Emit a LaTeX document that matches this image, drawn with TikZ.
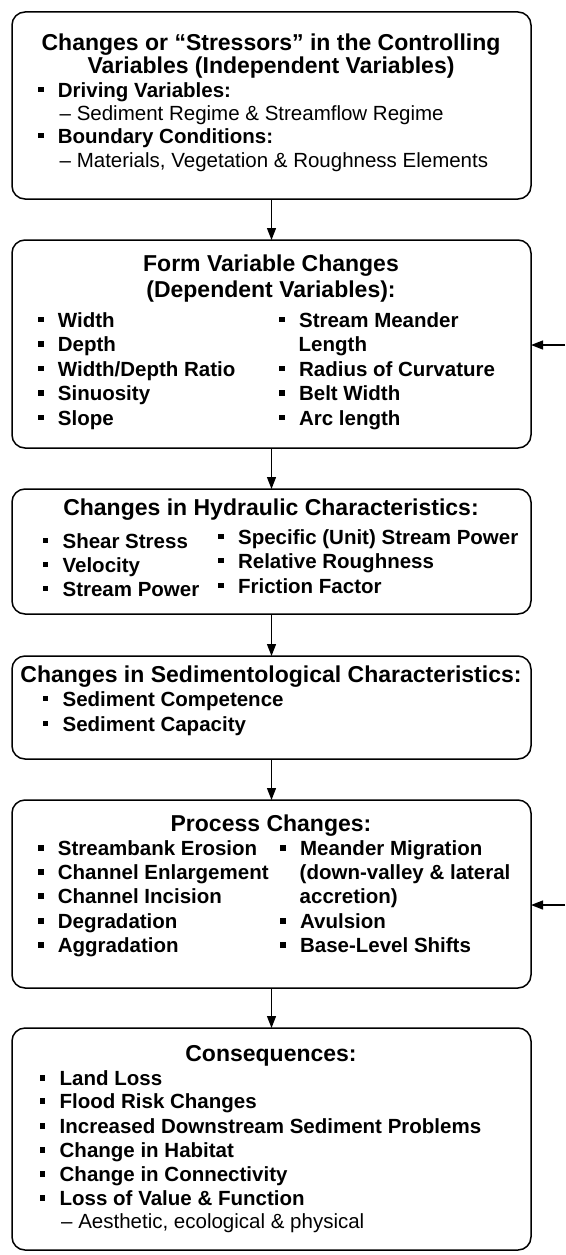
\documentclass[tikz,border=0pt]{standalone}
\usepackage{fontspec}
\setmainfont{Liberation Sans}
\usetikzlibrary{arrows.meta}
\newcommand{\sqb}{\rule[0.22em]{0.27em}{0.27em}\hspace{0.7em}}
\begin{document}
\begin{tikzpicture}[x=1pt,y=-1pt,
  box/.style={draw, line width=1.5pt, rounded corners=13pt, inner sep=0, outer sep=0},
  ttl/.style={anchor=base, font=\fontsize{23}{27}\selectfont\bfseries, inner sep=0},
  itm/.style={anchor=base west, font=\fontsize{20.5}{24}\selectfont\bfseries, inner sep=0},
  subitm/.style={anchor=base west, font=\fontsize{20.5}{24}\selectfont, inner sep=0},
  arr/.style={-{Triangle[length=12pt,width=9pt]}, line width=1.3pt}]
\useasboundingbox (0,0) rectangle (565,1255);
% boxes
\node[box, minimum width=519pt, minimum height=187pt] (b1) at (271.5,105.5) {};
\node[box, minimum width=519pt, minimum height=208pt] (b2) at (271.5,344) {};
\node[box, minimum width=519pt, minimum height=125pt] (b3) at (271.5,551.5) {};
\node[box, minimum width=519pt, minimum height=103pt] (b4) at (271.5,707.5) {};
\node[box, minimum width=519pt, minimum height=188pt] (b5) at (271.5,894) {};
\node[box, minimum width=519pt, minimum height=222pt] (b6) at (271.5,1139) {};
% box 1
\node[ttl] (t1a) at (271,51) {Changes or “Stressors” in the Controlling};
\node[ttl] (t1b) at (271,74) {Variables (Independent Variables)};
\node[itm] (i1a) at (37.8,97) {\sqb Driving Variables:};
\node[subitm] (s1a) at (59.5,120) {– Sediment Regime \& Streamflow Regime};
\node[itm] (i1b) at (37.8,143) {\sqb Boundary Conditions:};
\node[subitm] (s1b) at (59.5,167) {– Materials, Vegetation \& Roughness Elements};
% box 2
\node[ttl] (t2a) at (271,271) {Form Variable Changes};
\node[ttl] (t2b) at (271,297) {(Dependent Variables):};
\node[itm] (i2a) at (37.8,327) {\sqb Width};
\node[itm] (i2b) at (37.8,351.5) {\sqb Depth};
\node[itm] (i2c) at (37.8,376) {\sqb Width/Depth Ratio};
\node[itm] (i2d) at (37.8,400.5) {\sqb Sinuosity};
\node[itm] (i2e) at (37.8,425) {\sqb Slope};
\node[itm] (i2f) at (279,327) {\sqb Stream Meander};
\node[itm] (i2g) at (298.5,351.5) {Length};
\node[itm] (i2h) at (279,376) {\sqb Radius of Curvature};
\node[itm] (i2i) at (279,400.5) {\sqb Belt Width};
\node[itm] (i2j) at (279,425) {\sqb Arc length};
% box 3
\node[ttl] (t3) at (271,515) {Changes in Hydraulic Characteristics:};
\node[itm] (i3a) at (42.5,548) {\sqb Shear Stress};
\node[itm] (i3b) at (42.5,572) {\sqb Velocity};
\node[itm] (i3c) at (42.5,596) {\sqb Stream Power};
\node[itm] (i3d) at (218,544) {\sqb Specific (Unit) Stream Power};
\node[itm] (i3e) at (218,568) {\sqb Relative Roughness};
\node[itm] (i3f) at (218,593) {\sqb Friction Factor};
% box 4
\node[ttl] (t4) at (271,682) {Changes in Sedimentological Characteristics:};
\node[itm] (i4a) at (42.5,706) {\sqb Sediment Competence};
\node[itm] (i4b) at (42.5,731) {\sqb Sediment Capacity};
% box 5
\node[ttl] (t5) at (271,831) {Process Changes:};
\node[itm] (i5a) at (37.8,855) {\sqb Streambank Erosion};
\node[itm] (i5b) at (37.8,879) {\sqb Channel Enlargement};
\node[itm] (i5c) at (37.8,903) {\sqb Channel Incision};
\node[itm] (i5d) at (37.8,928) {\sqb Degradation};
\node[itm] (i5e) at (37.8,952) {\sqb Aggradation};
\node[itm] (i5f) at (280,855) {\sqb Meander Migration};
\node[itm] (i5g) at (299.5,879) {(down-valley \& lateral};
\node[itm] (i5h) at (299.5,903) {accretion)};
\node[itm] (i5i) at (280,928) {\sqb Avulsion};
\node[itm] (i5j) at (280,952) {\sqb Base-Level Shifts};
% box 6
\node[ttl] (t6) at (271,1061) {Consequences:};
\node[itm] (i6a) at (39.6,1085) {\sqb Land Loss};
\node[itm] (i6b) at (39.6,1108) {\sqb Flood Risk Changes};
\node[itm] (i6c) at (39.6,1133) {\sqb Increased Downstream Sediment Problems};
\node[itm] (i6d) at (39.6,1157) {\sqb Change in Habitat};
\node[itm] (i6e) at (39.6,1181) {\sqb Change in Connectivity};
\node[itm] (i6f) at (39.6,1205) {\sqb Loss of Value \& Function};
\node[subitm] (s6a) at (61,1228) {– Aesthetic, ecological \& physical};
% connectors
\draw[arr] (b1.south) -- (b2.north);
\draw[arr] (b2.south) -- (b3.north);
\draw[arr] (b3.south) -- (b4.north);
\draw[arr] (b4.south) -- (b5.north);
\draw[arr] (b5.south) -- (b6.north);
\coordinate (f1) at (565,345);
\coordinate (f2) at (565,905);
\draw[arr] (f1) -- (f1 -| b2.east);
\draw[arr] (f2) -- (f2 -| b5.east);
\end{tikzpicture}
\end{document}
